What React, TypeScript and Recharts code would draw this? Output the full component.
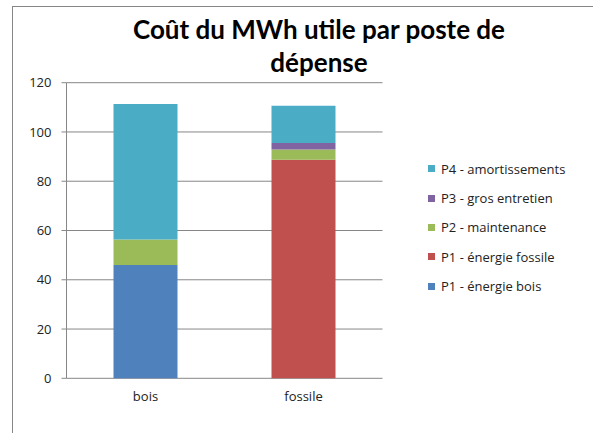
import React from 'react';
import { BarChart, Bar, XAxis, YAxis, CartesianGrid } from 'recharts';

const categories = ['bois', 'fossile'];
const p1Bois = [46, 0];
const p1Fossile = [0, 88.7];
const p2Maintenance = [10.3, 4.2];
const p3GrosEntretien = [0, 2.6];
const p4Amortissements = [55.1, 15.1];
const yTicks = [0, 20, 40, 60, 80, 100, 120];

const series = [
  { key: 'p1b', name: 'P1 - énergie bois', values: p1Bois, color: '#4F81BD' },
  { key: 'p1f', name: 'P1 - énergie fossile', values: p1Fossile, color: '#C0504D' },
  { key: 'p2', name: 'P2 - maintenance', values: p2Maintenance, color: '#9BBB59' },
  { key: 'p3', name: 'P3 - gros entretien', values: p3GrosEntretien, color: '#8064A2' },
  { key: 'p4', name: 'P4 - amortissements', values: p4Amortissements, color: '#4BACC6' },
];

const chartData = categories.map((cat, i) => {
  const row: { [k: string]: string | number } = { cat, pos: i };
  series.forEach(s => { row[s.key] = s.values[i]; });
  return row;
});

const FONT = '"Open Sans", sans-serif';
const GRAY = '#878787';

const LegendBox = () => (
  <div style={{ fontFamily: FONT, fontSize: 13, color: '#222' }}>
    {[...series].reverse().map(s => (
      <div key={s.key} style={{ display: 'flex', alignItems: 'center', height: 29.4 }}>
        <span style={{ width: 7, height: 7, background: s.color, marginRight: 6, display: 'inline-block' }} />
        <span>{s.name}</span>
      </div>
    ))}
  </div>
);

const EdgeTick = (props: any) => {
  const { x, y } = props;
  return <line x1={x} x2={x} y1={y - 5} y2={y} stroke={GRAY} />;
};

const App = () => {
  return (
    <div style={{ position: 'fixed', left: 0, top: 0, width: 593, height: 433, overflow: 'hidden', background: '#fff' }}>
      <div style={{ position: 'absolute', left: 12, top: 6, width: 700, height: 600, border: `1px solid ${GRAY}` }} />
      <div style={{ position: 'absolute', left: 119, top: 13, width: 400, textAlign: 'center', fontFamily: 'Lato, sans-serif', fontWeight: 700, fontSize: 26, lineHeight: '33px', color: '#000' }}>
        Coût du MWh utile par poste de<br />dépense
      </div>
      <div style={{ position: 'absolute', left: 0, top: 0 }}>
        <BarChart width={593} height={433} data={chartData} margin={{ top: 82.7, right: 210.5, bottom: 24.7, left: 0 }}>
          <CartesianGrid vertical={false} stroke={GRAY} />
          <XAxis xAxisId="edges" type="number" dataKey="pos" domain={[0, 2]} ticks={[0, 1, 2]} height={0}
            tick={<EdgeTick />} tickSize={5} tickMargin={0} tickLine={{ stroke: GRAY }} axisLine={{ stroke: GRAY }} />
          <XAxis dataKey="cat" height={30} tickLine={false} axisLine={false} tickSize={0} tickMargin={13}
            tick={{ fill: '#222', fontSize: 13, fontFamily: FONT }} />
          <YAxis domain={[0, 120]} ticks={yTicks} width={66.5} tickSize={5} tickMargin={10}
            tickLine={{ stroke: GRAY }} axisLine={{ stroke: GRAY }}
            tick={{ fill: '#222', fontSize: 13, fontFamily: FONT }} />
          {series.map(s => (
            <Bar key={s.key} dataKey={s.key} name={s.name} stackId="a" fill={s.color} barSize={64} isAnimationActive={false} />
          ))}
        </BarChart>
      </div>
      <div style={{ position: 'absolute', left: 428, top: 154 }}>
        <LegendBox />
      </div>
    </div>
  );
};

export default App;
